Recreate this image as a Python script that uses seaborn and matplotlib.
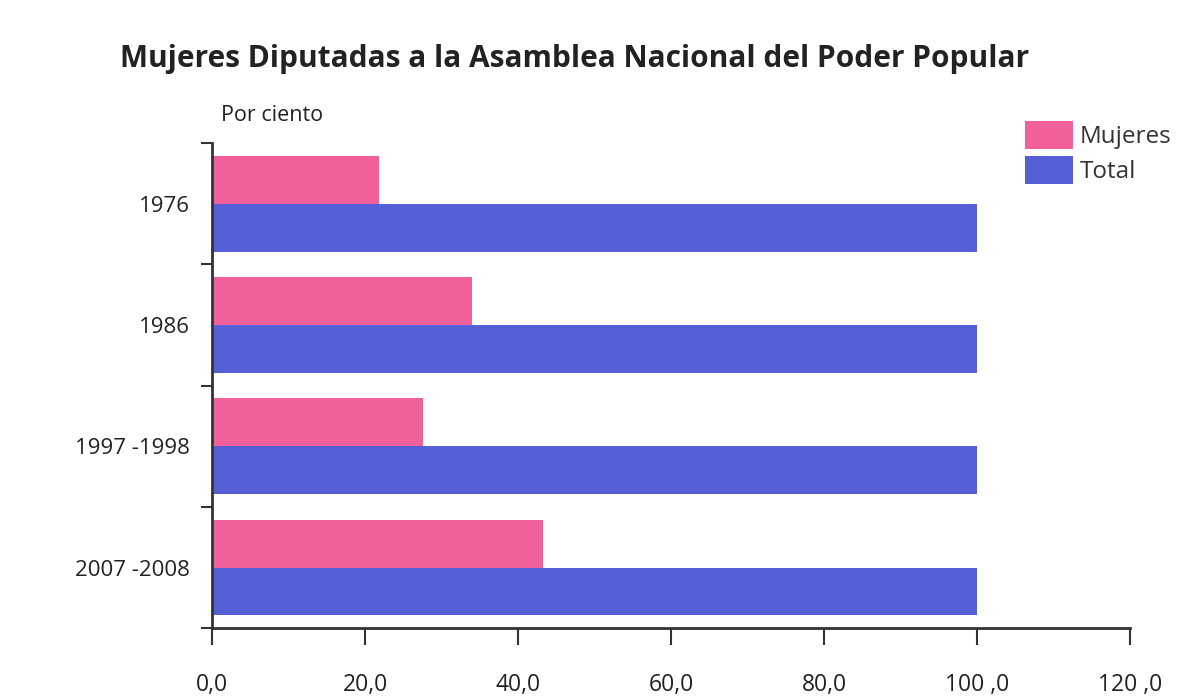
import matplotlib
matplotlib.use("Agg")
import matplotlib.pyplot as plt
import seaborn as sns
import pandas as pd

# datos
periodos = ["1976", "1986", "1997 -1998", "2007 -2008"]
mujeres = [21.8, 33.9, 27.6, 43.3]
total = [100.0, 100.0, 100.0, 100.0]
series = ["Mujeres", "Total"]
colores = ["#F2609C", "#5660D6"]
xticks = [0, 20, 40, 60, 80, 100, 120]
xticklabels = ["0,0", "20,0", "40,0", "60,0", "80,0", "100 ,0", "120 ,0"]

df = pd.DataFrame({
    "Periodo": periodos * 2,
    "Serie": [series[0]] * len(periodos) + [series[1]] * len(periodos),
    "Valor": mujeres + total,
})

sns.set_style("white")
plt.rcParams["font.family"] = ["Open Sans", "DejaVu Sans"]

fig = plt.figure(figsize=(11.85, 6.98), dpi=100)
ax = fig.add_axes([0.179, 0.100, 0.775, 0.695])

sns.barplot(data=df, y="Periodo", x="Valor", hue="Serie", orient="h",
            palette=colores, width=0.79, saturation=1, linewidth=0, ax=ax)

ax.set_xlim(0, 120)
ax.set_ylim(3.5, -0.5)
ax.set_xticks(xticks)
ax.set_xticklabels(xticklabels, fontsize=16.5, color="#222222")
ax.tick_params(axis="x", bottom=True, length=12, width=1.5, pad=20, direction="out", color="#333333")
ax.set_yticks(range(len(periodos)))
ax.set_yticklabels(periodos, fontsize=16, color="#222222")
ax.tick_params(axis="y", which="major", left=True, length=0, pad=16)
ax.set_yticks([-0.5, 0.5, 1.5, 2.5, 3.5], minor=True)
ax.tick_params(axis="y", which="minor", left=True, length=8, width=1.5, direction="out", color="#333333")
ax.set_xlabel("")
ax.set_ylabel("")

for s in ["top", "right"]:
    ax.spines[s].set_visible(False)
for s in ["left", "bottom"]:
    ax.spines[s].set_color("#333333")
    ax.spines[s].set_linewidth(2)

ax.text(0.01, 1.035, "Por ciento", transform=ax.transAxes, fontsize=15.5,
        color="#222222", va="bottom", ha="left")

fig.text(0.485, 0.915, "Mujeres Diputadas a la Asamblea Nacional del Poder Popular",
         fontsize=21.5, fontweight="bold", color="#222222", ha="center", va="center")

leg = ax.legend(loc="upper left", bbox_to_anchor=(0.857, 0.84), bbox_transform=fig.transFigure,
                frameon=False, fontsize=17.5, handlelength=1.95, handleheight=1.35,
                labelspacing=0.3, handletextpad=0.3, borderaxespad=0)
for t in leg.get_texts():
    t.set_color("#333333")

fig.savefig("out.png", dpi=100, facecolor="white")
